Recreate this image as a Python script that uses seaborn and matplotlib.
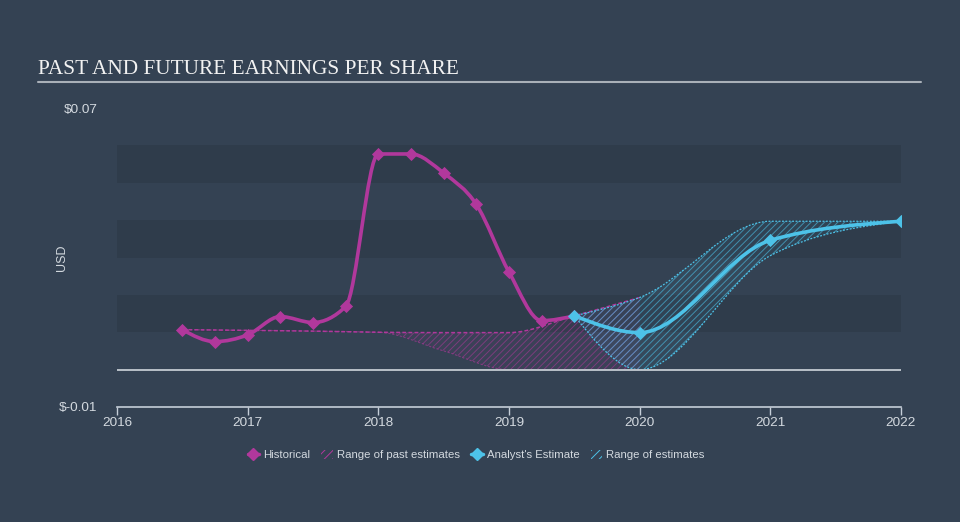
import numpy as np
import matplotlib
matplotlib.use("Agg")
import matplotlib.pyplot as plt
from matplotlib.path import Path
from matplotlib.patches import PathPatch, Patch
from matplotlib.lines import Line2D
import seaborn as sns
import pandas as pd

# ---------------- data ----------------
hist_x = [2016.5, 2016.75, 2017.0, 2017.25, 2017.5, 2017.75, 2018.0,
          2018.25, 2018.5, 2018.75, 2019.0, 2019.25, 2019.5]
hist_eps = [0.0107, 0.0075, 0.0093, 0.0142, 0.0126, 0.0169, 0.0577,
            0.0577, 0.0526, 0.0442, 0.0261, 0.0131, 0.0144]

est_x = [2019.5, 2020.0, 2021.0, 2022.0]
est_eps = [0.0144, 0.0099, 0.0346, 0.0397]
est_high = [0.0144, 0.0193, 0.0397, 0.0397]
est_low = [0.0144, 0.0, 0.0305, 0.0397]

past_x = [2016.5, 2017.0, 2017.5, 2018.0, 2018.5, 2019.0, 2019.5, 2020.0]
past_high = [0.0107, 0.0105, 0.0103, 0.0100, 0.0099, 0.0099, 0.0144, 0.0193]
past_low = [0.0107, 0.0105, 0.0103, 0.0100, 0.0050, 0.0, 0.0, 0.0]

x_ticks = [2016, 2017, 2018, 2019, 2020, 2021, 2022]
x_tick_labels = ["2016", "2017", "2018", "2019", "2020", "2021", "2022"]
y_tick_vals = [-0.01, 0.07]
y_tick_labels = ["$-0.01", "$0.07"]

title = "PAST AND FUTURE EARNINGS PER SHARE"
legend_labels = ["Historical", "Range of past estimates",
                 "Analyst's Estimate", "Range of estimates"]

# ---------------- style ----------------
BG = "#344253"
BAND = "#2f3c4b"
PINK = "#b1389c"
CYAN = "#4dc2e8"
TXT = "#d3d9df"

sns.set_theme(style="dark", rc={"figure.facecolor": BG, "axes.facecolor": BG})
plt.rcParams["font.family"] = ["Liberation Sans", "DejaVu Sans"]
plt.rcParams["hatch.linewidth"] = 0.7


def monotone_tangents(x, y):
    x = np.asarray(x, float)
    y = np.asarray(y, float)
    n = len(x)
    h = np.diff(x)
    s = np.diff(y) / h
    t = np.zeros(n)
    if n == 2:
        t[:] = s[0]
        return t
    for i in range(1, n - 1):
        h0, h1 = h[i - 1], h[i]
        s0, s1 = s[i - 1], s[i]
        p = (s0 * h1 + s1 * h0) / (h0 + h1)
        t[i] = (np.sign(s0) + np.sign(s1)) * min(abs(s0), abs(s1), 0.5 * abs(p))
    t[0] = (3 * s[0] - t[1]) / 2
    t[-1] = (3 * s[-1] - t[-2]) / 2
    return t


def curve_vertices(x, y):
    t = monotone_tangents(x, y)
    verts = [(x[0], y[0])]
    for i in range(len(x) - 1):
        dx = (x[i + 1] - x[i]) / 3.0
        verts += [(x[i] + dx, y[i] + dx * t[i]),
                  (x[i + 1] - dx, y[i + 1] - dx * t[i + 1]),
                  (x[i + 1], y[i + 1])]
    return verts


def curve_path(x, y):
    v = curve_vertices(x, y)
    codes = [Path.MOVETO] + [Path.CURVE4] * (len(v) - 1)
    return Path(v, codes)


def band_path(x, hi, lo):
    vu = curve_vertices(x, hi)
    vl = curve_vertices(x, lo)[::-1]
    v = vu + vl + [vu[0]]
    codes = ([Path.MOVETO] + [Path.CURVE4] * (len(vu) - 1) +
             [Path.LINETO] + [Path.CURVE4] * (len(vl) - 1) + [Path.CLOSEPOLY])
    return Path(v, codes)


fig = plt.figure(figsize=(9.6, 5.22), dpi=100)
ax = fig.add_axes([117 / 960, 1 - 407 / 522, 784 / 960, 299 / 522])
ax.set_facecolor(BG)

# background bands
for lo_b in (0.01, 0.03, 0.05):
    ax.axhspan(lo_b, lo_b + 0.01, color=BAND, lw=0, zorder=0)

# range of past estimates
ax.add_patch(PathPatch(band_path(past_x, past_high, past_low),
                       facecolor=(0.69, 0.22, 0.61, 0.06),
                       edgecolor=(0.69, 0.22, 0.61, 0.55), hatch="/////",
                       lw=0, zorder=2))
ax.add_patch(PathPatch(curve_path(past_x, past_high), fill=False,
                       edgecolor=PINK, lw=1.1, ls=(0, (2.5, 1.5)), zorder=2.5))
ax.add_patch(PathPatch(curve_path(past_x, past_low), fill=False,
                       edgecolor=(0.69, 0.22, 0.61, 0.6), lw=0.8,
                       ls=(0, (2, 1.5)), zorder=2.5))

# range of estimates
ax.add_patch(PathPatch(band_path(est_x, est_high, est_low),
                       facecolor=(0.30, 0.76, 0.91, 0.06),
                       edgecolor=(0.30, 0.76, 0.91, 0.6), hatch="/////",
                       lw=0, zorder=3))
for yy in (est_high, est_low):
    ax.add_patch(PathPatch(curve_path(est_x, yy), fill=False,
                           edgecolor=CYAN, lw=0.9, ls=(0, (1.5, 1.2)),
                           zorder=3.5))

# zero line
ax.axhline(0, color="#b9c1c9", lw=1.4, zorder=4)

# main lines (smooth monotone curves through data)
ax.add_patch(PathPatch(curve_path(hist_x, hist_eps), fill=False,
                       edgecolor=PINK, lw=2.6, capstyle="round", zorder=5))
ax.add_patch(PathPatch(curve_path(est_x, est_eps), fill=False,
                       edgecolor=CYAN, lw=2.6, capstyle="round", zorder=6))

hist_df = pd.DataFrame({"x": hist_x, "eps": hist_eps})
est_df = pd.DataFrame({"x": est_x, "eps": est_eps})
sns.scatterplot(data=hist_df, x="x", y="eps", marker="D", s=45, color=PINK,
                edgecolor=PINK, linewidth=0, ax=ax, zorder=7, legend=False)
sns.scatterplot(data=est_df, x="x", y="eps", marker="D", s=45, color=CYAN,
                edgecolor=CYAN, linewidth=0, ax=ax, zorder=8, legend=False)

ax.set_xlim(2016, 2022)
ax.set_ylim(-0.01, 0.07)
ax.set_xticks(x_ticks)
ax.set_xticklabels(x_tick_labels)
ax.set_yticks(y_tick_vals)
ax.set_yticklabels(y_tick_labels)
ax.set_xlabel("")
ax.set_ylabel("USD", color=TXT, fontsize=9)
ax.yaxis.set_label_coords(-0.062, 0.5)
ax.tick_params(axis="x", colors="#c5ced8", labelcolor=TXT, labelsize=9.7,
               direction="out", length=6, width=1, pad=1, bottom=True)
ax.tick_params(axis="y", length=0, labelcolor=TXT, labelsize=9.7, pad=14)
ax.grid(False)
for side in ("top", "right", "left"):
    ax.spines[side].set_visible(False)
ax.spines["bottom"].set_color("#c5ced8")
ax.spines["bottom"].set_linewidth(1.2)

# title + underline
fig.text(38 / 960, 1 - 74 / 522, title, family="Liberation Serif",
         fontsize=15.3, color="#f2f2f2", va="baseline", ha="left")
fig.add_artist(Line2D([38 / 960, 921 / 960], [1 - 82 / 522, 1 - 82 / 522],
                      transform=fig.transFigure, color="#a9b0b8", lw=1.5))

# legend
handles = [
    Line2D([], [], color=PINK, lw=2.5, marker="D", markersize=6),
    Patch(facecolor="none", edgecolor=PINK, hatch="////", lw=0),
    Line2D([], [], color=CYAN, lw=2.5, marker="D", markersize=6),
    Patch(facecolor="none", edgecolor=CYAN, hatch="////", lw=0),
]
leg = fig.legend(handles, legend_labels, loc="center",
                 bbox_to_anchor=(476 / 960, 1 - 455 / 522), ncol=4,
                 frameon=False, fontsize=8.2, handlelength=1.0,
                 handleheight=0.8, handletextpad=0.35, columnspacing=1.0)
for t in leg.get_texts():
    t.set_color(TXT)

fig.savefig("out.png", dpi=100, facecolor=BG)
